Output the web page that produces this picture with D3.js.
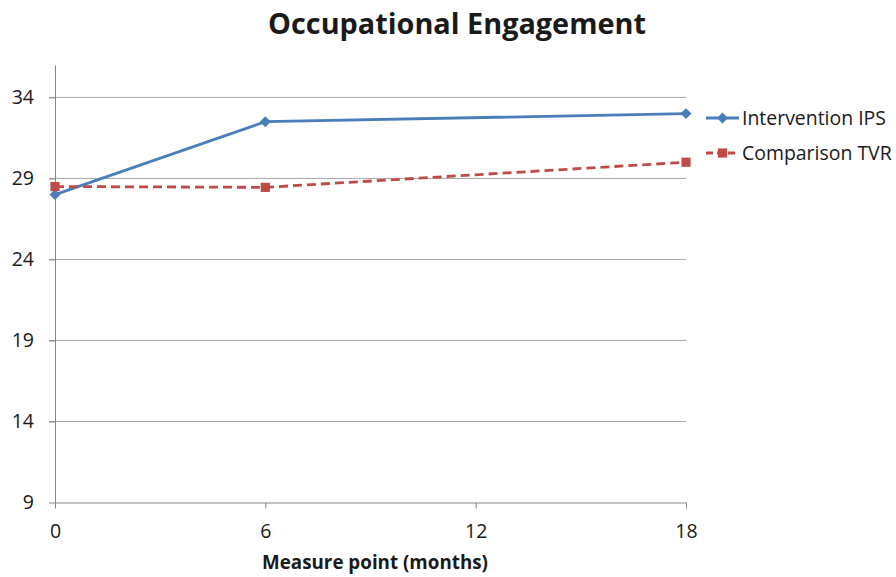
<!DOCTYPE html>
<html><head>
<meta charset="utf-8">
<script src="https://d3js.org/d3.v7.min.js"></script>
<style>
  body { margin: 0; background: #fff; }
  text { font-family: "Open Sans", sans-serif; fill: #1a1a1a; }
</style>
</head>
<body>
<svg id="plot" width="896" height="577"></svg>
<script>
  // data
  const months = [0, 6, 18];
  const seriesNames = ["Intervention IPS", "Comparison TVR"];
  const interventionIPS = [28.0, 32.5, 33.0];
  const comparisonTVR = [28.5, 28.45, 30.0];
  const yTicks = [9, 14, 19, 24, 29, 34];
  const xTicks = [0, 6, 12, 18];

  const svg = d3.select("svg#plot");
  const margin = {top: 65, left: 55};
  const plotRight = 686, plotBottom = 502.5;

  const x = d3.scaleLinear().domain([0, 18]).range([margin.left, plotRight]);
  const y = d3.scaleLinear().domain([9, 36]).range([plotBottom, margin.top]);

  // font size that gives a text the width it has in the reference
  function fitSize(sel, w) {
    const cur = sel.node().getComputedTextLength();
    const fs = parseFloat(sel.style("font-size"));
    return (fs * w / cur).toFixed(2) + "px";
  }

  // title
  const title = svg.append("text")
     .attr("x", 457).attr("y", 34)
     .attr("text-anchor", "middle")
     .style("font-size", "28px").style("font-weight", "bold")
     .text("Occupational Engagement");
  title.style("font-size", fitSize(title, 378));

  // gridlines
  svg.append("g").selectAll("line")
     .data(yTicks.slice(1)).join("line")
     .attr("x1", margin.left - 6).attr("x2", plotRight)
     .attr("y1", d => y(d)).attr("y2", d => y(d))
     .attr("stroke", "#a6a6a6").attr("stroke-width", 1);

  // y axis
  const yAxis = svg.append("g")
     .attr("transform", "translate(" + margin.left + ",0)")
     .call(d3.axisLeft(y).tickValues(yTicks).tickSize(6).tickPadding(15).tickSizeOuter(0));
  yAxis.select(".domain").attr("stroke", "#868686");
  yAxis.selectAll(".tick line").attr("stroke", "#868686");
  yAxis.selectAll("text").style("font-size", "19.5px").attr("fill", "#1a1a1a");

  // x axis
  const xAxis = svg.append("g")
     .attr("transform", "translate(0," + plotBottom + ")")
     .call(d3.axisBottom(x).tickValues(xTicks).tickSize(6).tickPadding(16).tickSizeOuter(0));
  xAxis.select(".domain").attr("stroke", "#868686");
  xAxis.selectAll(".tick line").attr("stroke", "#868686");
  xAxis.selectAll("text").style("font-size", "19.5px").attr("fill", "#1a1a1a");

  const xTitle = svg.append("text")
     .attr("x", 375).attr("y", 569)
     .attr("text-anchor", "middle")
     .style("font-size", "17px").style("font-weight", "bold")
     .text("Measure point (months)");
  xTitle.style("font-size", fitSize(xTitle, 226));

  const line = d3.line().x(d => x(d[0])).y(d => y(d[1]));
  const diamond = d3.symbol().type(d3.symbolSquare).size(60);
  const square = d3.symbol().type(d3.symbolSquare).size(85);

  const series = [
    {name: seriesNames[0], values: interventionIPS, color: "#4a7ebb", dash: null, sym: diamond, rot: 45},
    {name: seriesNames[1], values: comparisonTVR, color: "#be4b48", dash: "9,5", sym: square, rot: 0}
  ];

  let legendSize = null;
  series.forEach((s, i) => {
    const pts = months.map((m, j) => [m, s.values[j]]);
    svg.append("path").datum(pts)
       .attr("d", line).attr("fill", "none")
       .attr("stroke", s.color).attr("stroke-width", 2.8)
       .attr("stroke-dasharray", s.dash);
    svg.append("g").selectAll("path").data(pts).join("path")
       .attr("d", s.sym)
       .attr("transform", d => "translate(" + x(d[0]) + "," + y(d[1]) + ") rotate(" + s.rot + ")")
       .attr("fill", s.color);

    // legend
    const ly = 118 + i * 35;
    const lg = svg.append("g");
    lg.append("line").attr("x1", 706).attr("x2", 739).attr("y1", ly).attr("y2", ly)
      .attr("stroke", s.color).attr("stroke-width", 2.8)
      .attr("stroke-dasharray", s.dash ? "7,4" : null);
    lg.append("path").attr("d", s.sym).attr("fill", s.color)
      .attr("transform", "translate(722.5," + ly + ") rotate(" + s.rot + ")");
    const lt = lg.append("text").attr("x", 742).attr("y", ly).attr("dy", "0.35em")
      .style("font-size", "18px").text(s.name);
    if (legendSize === null) legendSize = fitSize(lt, 144);
    lt.style("font-size", legendSize);
  });
</script>
</body>
</html>
